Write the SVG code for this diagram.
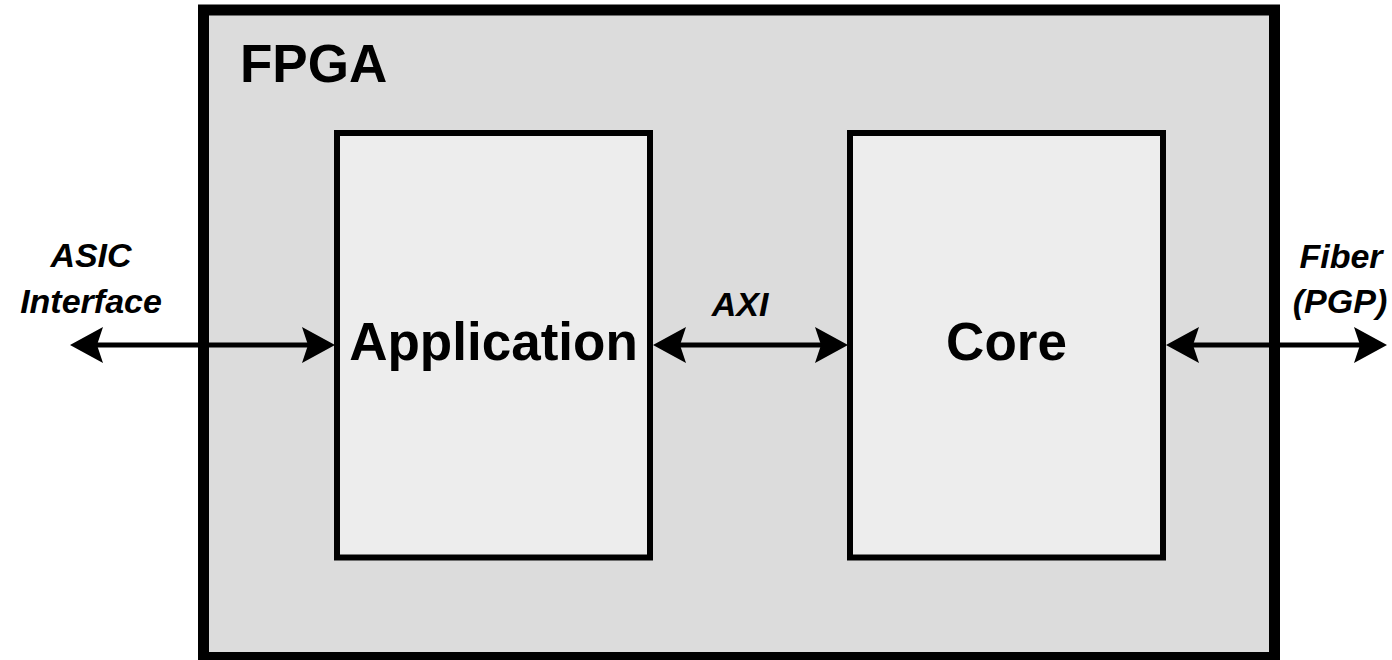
<svg xmlns="http://www.w3.org/2000/svg" width="1392" height="660" viewBox="0 0 1392 660">
  <style>
    .big { font-family: "Liberation Sans", Arial, sans-serif; font-weight: bold; font-size: 53px; fill: #000; }
    .lbl { font-family: "Liberation Sans", Arial, sans-serif; font-weight: bold; font-style: italic; font-size: 34px; fill: #000; text-anchor: middle; }
    .box { fill: #ededed; stroke: #000; stroke-width: 6; }
    .conn { stroke: #000; stroke-width: 5; fill: none; marker-start: url(#arr); marker-end: url(#arr); }
  </style>
  <defs>
    <marker id="arr" markerUnits="userSpaceOnUse" markerWidth="34" markerHeight="38" viewBox="0 0 34 38" refX="13" refY="19" orient="auto-start-reverse">
      <path d="M0,1 L33,19 L0,37 L6,19 Z" fill="#000"/>
    </marker>
  </defs>
  <rect width="1392" height="660" fill="#ffffff"/>
  <g id="fpga">
    <rect x="203.5" y="10" width="1071" height="647.5" fill="#dcdcdc" stroke="#000" stroke-width="11"/>
    <text class="big" x="240" y="82">FPGA</text>
  </g>
  <g id="application">
    <rect class="box" x="337" y="133" width="313" height="424.5"/>
    <text class="big" x="493.5" y="360" text-anchor="middle">Application</text>
  </g>
  <g id="core">
    <rect class="box" x="850" y="133" width="313" height="424.5"/>
    <text class="big" x="1006.5" y="360" text-anchor="middle">Core</text>
  </g>
  <g id="connectors">
    <line class="conn" x1="90" y1="345" x2="315" y2="345"/>
    <line class="conn" x1="673" y1="345" x2="828" y2="345"/>
    <line class="conn" x1="1186" y1="345" x2="1367" y2="345"/>
  </g>
  <g id="labels">
    <text class="lbl" x="91" y="267">ASIC</text>
    <text class="lbl" x="91" y="313">Interface</text>
    <text class="lbl" x="740" y="316">AXI</text>
    <text class="lbl" x="1341" y="268">Fiber</text>
    <text class="lbl" x="1340" y="313">(PGP)</text>
  </g>
</svg>
